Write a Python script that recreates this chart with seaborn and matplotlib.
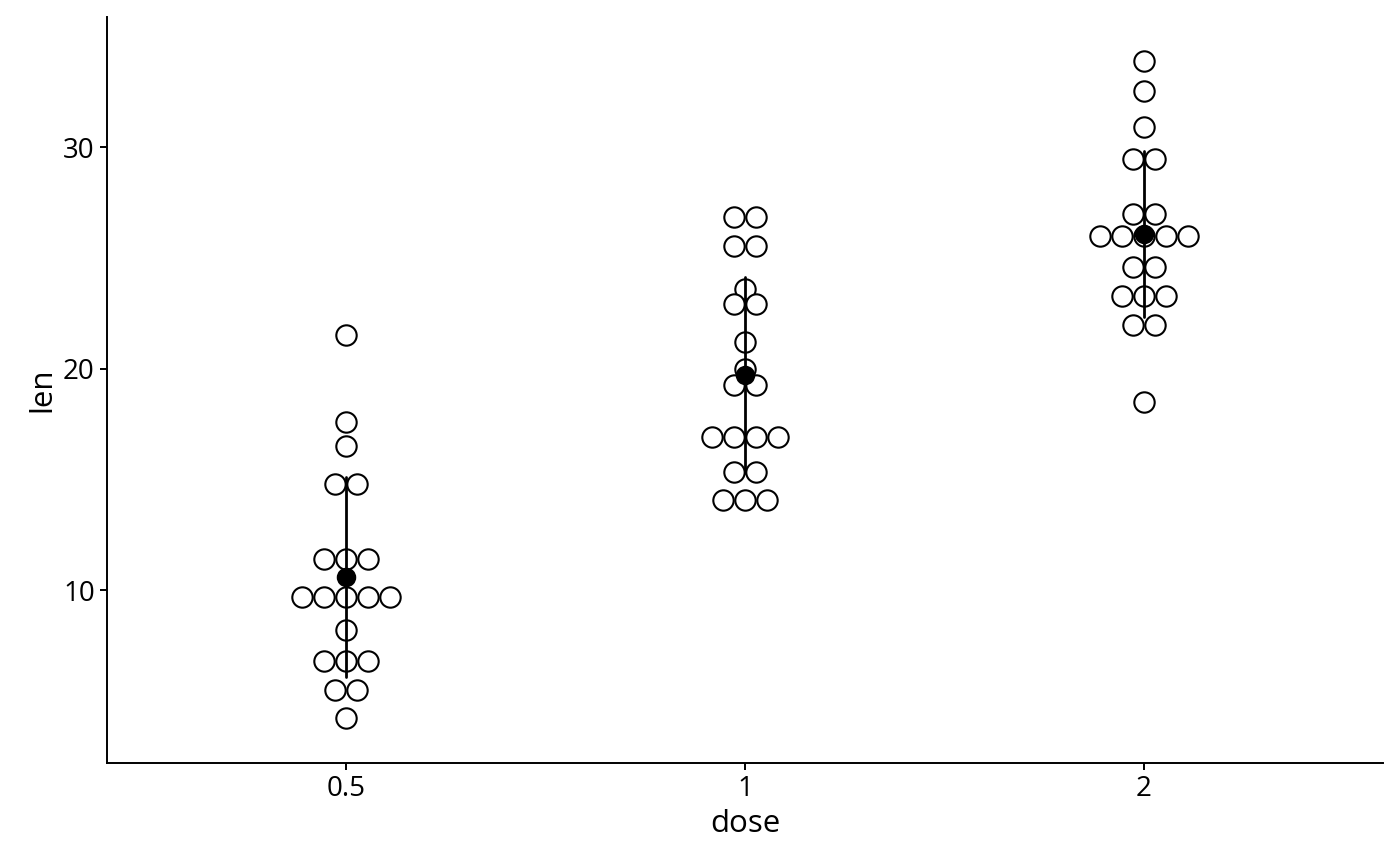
import numpy as np
import pandas as pd
import matplotlib
matplotlib.use("Agg")
import matplotlib.pyplot as plt
import seaborn as sns

doses = ["0.5", "1", "2"]

len_05 = [21.5, 17.6, 16.5, 14.8, 11.4, 9.7, 8.2, 6.8, 5.5, 4.2]
cnt_05 = [1, 1, 1, 2, 3, 5, 1, 3, 2, 1]

len_1 = [26.85, 25.55, 23.6, 22.9, 21.2, 20.0, 19.25, 16.9, 15.35, 14.05]
cnt_1 = [2, 2, 1, 2, 1, 1, 2, 4, 2, 3]

len_2 = [33.9, 32.55, 30.9, 29.45, 27.0, 25.98, 24.6, 23.3, 21.95, 18.5]
cnt_2 = [1, 1, 1, 2, 2, 5, 2, 3, 2, 1]

# ---- build long table, one row per dot ----
dot_w = 0.055  # horizontal spacing of stacked dots (category units)
rows = []
for i, (d, vals, cnts) in enumerate(zip(doses, [len_05, len_1, len_2], [cnt_05, cnt_1, cnt_2])):
    for v, n in zip(vals, cnts):
        for k in range(n):
            rows.append({"dose": d, "len": v, "xpos": i + (k - (n - 1) / 2) * dot_w})
df = pd.DataFrame(rows)

sns.set_theme(style="ticks")
plt.rcParams["font.family"] = ["Open Sans", "DejaVu Sans"]

fig = plt.figure(figsize=(14, 8.66), dpi=100)
ax = fig.add_axes([0.0764, 0.119, 0.9116, 0.861])

# dots
sns.scatterplot(data=df, x="xpos", y="len", ax=ax, s=215, color="white",
                edgecolor="black", linewidth=1.5, legend=False)

# mean +/- sd
sns.pointplot(data=df, x="dose", y="len", order=doses, ax=ax, errorbar="sd",
              color="black", linestyle="none", markers="o", markersize=12,
              err_kws={"linewidth": 2.0}, capsize=0)

ax.set_xlim(-0.6, 2.6)
ax.set_ylim(2.19, 35.87)
ax.set_xticks([0, 1, 2])
ax.set_xticklabels(doses)
ax.set_yticks([10, 20, 30])
ax.set_xlabel("dose", fontsize=22.5, color="black")
ax.set_ylabel("len", fontsize=22.5, color="black")
ax.tick_params(axis="both", labelsize=20, length=5.3, width=1.4, colors="black")
for side in ["top", "right"]:
    ax.spines[side].set_visible(False)
for side in ["left", "bottom"]:
    ax.spines[side].set_linewidth(1.4)
    ax.spines[side].set_color("black")

fig.savefig("out.png", dpi=100)
